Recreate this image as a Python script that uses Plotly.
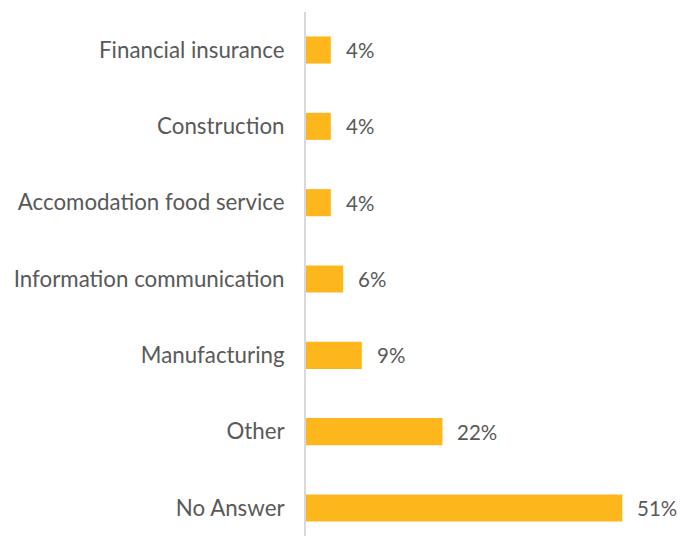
import plotly.graph_objects as go

# Industry breakdown, listed bottom to top
categories = [
    "No Answer",
    "Other",
    "Manufacturing",
    "Information communication",
    "Accomodation food service",
    "Construction",
    "Financial insurance",
]
shares = [51, 22, 9, 6, 4, 4, 4]
value_labels = [f"{v}%" for v in shares]

BAR_COLOR = "#FDB71C"
TEXT_COLOR = "#595959"
FONT = "Lato, 'Open Sans', sans-serif"

fig = go.Figure(
    go.Bar(
        x=shares,
        y=categories,
        orientation="h",
        marker=dict(color=BAR_COLOR, line=dict(width=0)),
        hoverinfo="skip",
    )
)

for cat, v, lab in zip(categories, shares, value_labels):
    fig.add_annotation(
        x=v, y=cat, text=lab, showarrow=False,
        xanchor="left", yanchor="middle", xshift=13,
        font=dict(size=20.5, color=TEXT_COLOR, family=FONT),
    )

fig.update_layout(
    width=680,
    height=536,
    margin=dict(l=306, r=0, t=12, b=0),
    paper_bgcolor="white",
    plot_bgcolor="white",
    bargap=0.645,
    showlegend=False,
    font=dict(family=FONT, color=TEXT_COLOR, size=20),
)

fig.update_xaxes(
    range=[0, 60.3],
    showgrid=False,
    zeroline=False,
    showticklabels=False,
    showline=False,
    fixedrange=True,
)
fig.update_yaxes(
    categoryorder="array",
    categoryarray=categories,
    range=[-0.367, 6.498],
    showgrid=False,
    zeroline=False,
    showline=True,
    linecolor="#D9D9D9",
    linewidth=2,
    ticks="",
    ticklabelstandoff=15,
    tickfont=dict(size=22.3, color=TEXT_COLOR, family=FONT),
    fixedrange=True,
)

fig.write_html("out.html")
